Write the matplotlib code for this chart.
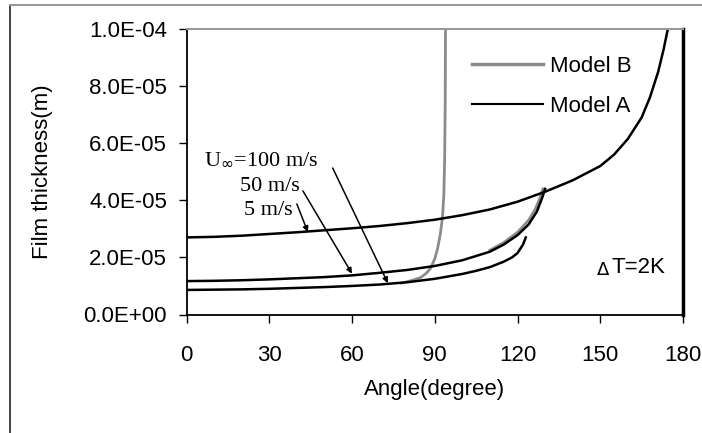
import numpy as np
import matplotlib
matplotlib.use('Agg')
import matplotlib.pyplot as plt
from matplotlib.patches import Rectangle

# Model A, U=5 m/s
a5_ang = [0, 10, 20, 30, 40, 50, 60, 70, 80, 90, 100, 110, 120, 130, 140, 150, 155, 160, 165, 168, 171, 173, 174.5]
a5_th = [2.70e-5, 2.72e-5, 2.76e-5, 2.82e-5, 2.88e-5, 2.95e-5, 3.02e-5, 3.10e-5, 3.20e-5, 3.32e-5, 3.48e-5, 3.68e-5, 3.95e-5, 4.30e-5, 4.70e-5, 5.20e-5, 5.60e-5, 6.15e-5, 6.90e-5, 7.60e-5, 8.50e-5, 9.30e-5, 1.0e-4]
# Model A, U=50 m/s
a50_ang = [0, 10, 20, 30, 40, 50, 60, 70, 80, 90, 100, 110, 115, 120, 124, 127, 129, 130]
a50_th = [1.17e-5, 1.18e-5, 1.20e-5, 1.23e-5, 1.27e-5, 1.31e-5, 1.37e-5, 1.46e-5, 1.56e-5, 1.70e-5, 1.90e-5, 2.20e-5, 2.45e-5, 2.78e-5, 3.15e-5, 3.60e-5, 4.10e-5, 4.40e-5]
# Model A, U=100 m/s
a100_ang = [0, 10, 20, 30, 40, 50, 60, 70, 80, 90, 100, 105, 110, 115, 118, 120, 122, 123]
a100_th = [0.86e-5, 0.87e-5, 0.88e-5, 0.90e-5, 0.93e-5, 0.96e-5, 1.00e-5, 1.05e-5, 1.13e-5, 1.25e-5, 1.42e-5, 1.53e-5, 1.66e-5, 1.85e-5, 2.00e-5, 2.15e-5, 2.45e-5, 2.70e-5]
# Model B curves
b1_ang = [78, 82, 85, 87, 88.5, 90, 91, 92, 92.8, 93.3, 93.6, 93.8, 93.9]
b1_th = [1.10e-5, 1.20e-5, 1.30e-5, 1.45e-5, 1.62e-5, 1.95e-5, 2.30e-5, 2.80e-5, 3.40e-5, 4.20e-5, 5.50e-5, 7.50e-5, 1.0e-4]
b2_ang = [110, 115, 120, 124, 126.5, 128, 129.2]
b2_th = [2.25e-5, 2.52e-5, 2.88e-5, 3.30e-5, 3.70e-5, 4.05e-5, 4.40e-5]

yticks = [0, 2e-5, 4e-5, 6e-5, 8e-5, 1e-4]
ytick_labels = ['0.0E+00', '2.0E-05', '4.0E-05', '6.0E-05', '8.0E-05', '1.0E-04']
xticks = [0, 30, 60, 90, 120, 150, 180]

plt.rcParams['font.family'] = ['Liberation Sans', 'DejaVu Sans']
fs = 16

fig = plt.figure(figsize=(7.02, 4.33), dpi=100)
ax = fig.add_axes([186.5 / 702, 1 - 314.5 / 433, (683 - 186.5) / 702, (314.5 - 29) / 433])

# outer frame
fig.add_artist(Rectangle((10 / 702, -0.1), 1.2, 1 - 5 / 433 + 0.1, transform=fig.transFigure,
                         fill=False, edgecolor='#222222', linewidth=1.2))
fig.add_artist(plt.Line2D([10 / 702, 1], [1 - 5 / 433] * 2, transform=fig.transFigure,
                          color='#999999', linewidth=1.5))

gray = '#8c8c8c'
ax.plot(b1_ang, b1_th, color=gray, lw=2)
ax.plot(b2_ang, b2_th, color=gray, lw=2)
ax.plot(a5_ang, a5_th, color='black', lw=1.8)
ax.plot(a50_ang, a50_th, color='black', lw=1.8)
ax.plot(a100_ang, a100_th, color='black', lw=1.8)

# legend lines
ax.plot([], [], color=gray, lw=2.5, label='Model B')
ax.plot([], [], color='black', lw=1.5, label='Model A')
handles, labels = ax.get_legend_handles_labels()
leg = ax.legend(handles[-2:], labels[-2:], loc='upper left', bbox_to_anchor=(0.535, 0.975),
                frameon=False, fontsize=fs, handlelength=3.2, handletextpad=0.3, labelspacing=0.85)

ax.set_xlim(0, 180)
ax.set_ylim(0, 1e-4)
ax.set_xticks(xticks)
ax.set_xticklabels([str(t) for t in xticks], fontsize=fs)
ax.set_yticks(yticks)
ax.set_yticklabels(ytick_labels, fontsize=fs)
ax.tick_params(direction='out', length=6, width=1, pad=16)
ax.tick_params(axis='y', pad=8)

for side in ['left', 'bottom']:
    ax.spines[side].set_linewidth(1.3)
ax.spines['right'].set_linewidth(2.5)
ax.spines['top'].set_color('#999999')
ax.spines['top'].set_linewidth(1.5)

ax.set_xlabel('Angle(degree)', fontsize=fs, labelpad=9)
ax.set_ylabel('Film thickness(m)', fontsize=fs, labelpad=22)

serif = ['Liberation Serif', 'DejaVu Serif']
arrow = dict(arrowstyle='-|>', color='black', lw=1.1, mutation_scale=8, shrinkA=0, shrinkB=0)
ax.annotate('', xy=(73, 1.1e-5), xytext=(53, 5.13e-5), arrowprops=arrow)
ax.annotate('', xy=(60, 1.43e-5), xytext=(42.2, 4.33e-5), arrowprops=arrow)
ax.annotate('', xy=(44, 2.89e-5), xytext=(40, 3.87e-5), arrowprops=arrow)
ax.text(6.5, 5.4e-5, r'U$_{\infty}$=100 m/s', family=serif, fontsize=16, va='center')
ax.text(19.5, 4.47e-5, '50 m/s', family=serif, fontsize=16, va='center')
ax.text(21, 3.66e-5, '5 m/s', family=serif, fontsize=16, va='center')
ax.text(148.5, 1.55e-5, r'$\Delta$', fontsize=13, va='center')
ax.text(154.2, 1.65e-5, 'T=2K', fontsize=fs, va='center')

fig.savefig('out.png', dpi=100)
